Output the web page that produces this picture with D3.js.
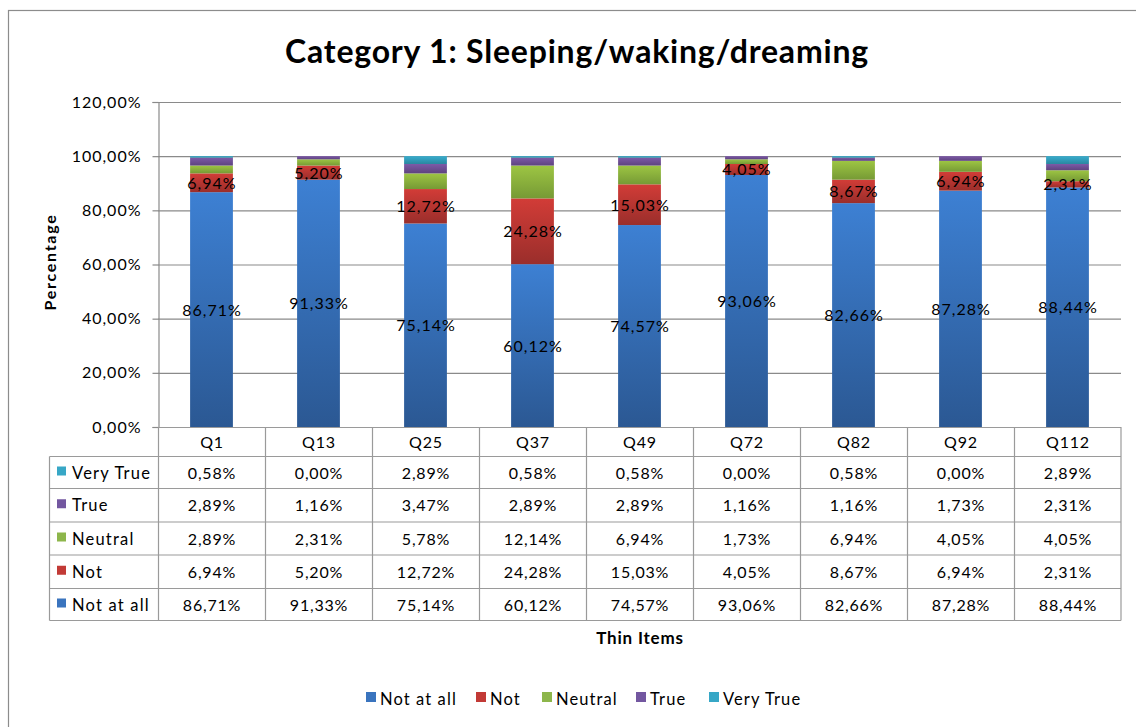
<!DOCTYPE html>
<html><head><meta charset="utf-8">
<script src="https://cdn.jsdelivr.net/npm/d3@7"></script>
<style>body{margin:0;background:#fff}svg{display:block}text{font-family:Lato,"Noto Sans",sans-serif;fill:#000}</style>
</head><body><svg id="c" width="1136" height="727"></svg>
<script>
const categories = ["Q1","Q13","Q25","Q37","Q49","Q72","Q82","Q92","Q112"];
const seriesNames = ["Not at all","Not","Neutral","True","Very True"];
const notAtAll = [86.71,91.33,75.14,60.12,74.57,93.06,82.66,87.28,88.44];
const notVals  = [6.94,5.20,12.72,24.28,15.03,4.05,8.67,6.94,2.31];
const neutral  = [2.89,2.31,5.78,12.14,6.94,1.73,6.94,4.05,4.05];
const trueVals = [2.89,1.16,3.47,2.89,2.89,1.16,1.16,1.73,2.31];
const veryTrue = [0.58,0.00,2.89,0.58,0.58,0.00,0.58,0.00,2.89];
const yTicks = [0,20,40,60,80,100,120];
const labelledSeries = ["Not at all","Not"];

const seriesValues = [notAtAll, notVals, neutral, trueVals, veryTrue];
const topColors = ["#3d80d3","#d23c37","#9dc543","#7d5aa8","#38aece"];
const botColors = ["#2b5893","#9a2e2b","#769a35","#5e437f","#2a86a0"];
const legendColors = ["#3a74be","#c23a36","#8db64b","#7357a0","#37a7c6"];

const svg = d3.select("#c");
const loc = d3.formatLocale({decimal:",",thousands:".",grouping:[3],currency:["",""]});
const fmt = v => loc.format(".2f")(v) + "%";

// outer border
svg.append("rect").attr("x",8.5).attr("y",10.5).attr("width",1200).attr("height",800)
  .attr("fill","none").attr("stroke","#8c8c8c").attr("stroke-width",1.2);

const defs = svg.append("defs");
seriesNames.forEach((s,i)=>{
  const g = defs.append("linearGradient").attr("id","g"+i).attr("x1",0).attr("x2",0).attr("y1",0).attr("y2",1);
  g.append("stop").attr("offset","0%").attr("stop-color",topColors[i]);
  g.append("stop").attr("offset","100%").attr("stop-color",botColors[i]);
});

const L = 158, R = 1121, T = 102, B = 427;
const x = d3.scaleBand().domain(categories).range([L,R]).paddingInner(0.6).paddingOuter(0.3);
const xc = d3.scaleBand().domain(categories).range([L,R]);
const y = d3.scaleLinear().domain([0,120]).range([B,T]);

// title
svg.append("text").attr("x",577).attr("y",63).attr("text-anchor","middle")
  .style("font-size","32px").style("font-weight","bold").style("letter-spacing","0.8px")
  .text("Category 1: Sleeping/waking/dreaming");

// gridlines
svg.append("g").selectAll("line").data(yTicks.filter(t=>t>0)).join("line")
  .attr("x1",L).attr("x2",R).attr("y1",d=>y(d)+0.5).attr("y2",d=>y(d)+0.5)
  .attr("stroke","#8a8a8a").attr("stroke-width",1.2);

// y axis
const ya = svg.append("g").attr("transform",`translate(${L+0.5},0)`)
  .call(d3.axisLeft(y).tickValues(yTicks).tickSize(6).tickFormat(d=>fmt(d)));
ya.select(".domain").attr("stroke","#8a8a8a").attr("stroke-width",1.2);
ya.selectAll(".tick line").attr("stroke","#8a8a8a").attr("stroke-width",1.2);
ya.selectAll(".tick text").attr("x",-17).style("font-size","16px").style("letter-spacing","1px")
  .style("font-family","Lato,sans-serif").attr("fill","#000");

svg.append("text").attr("transform",`translate(56,262) rotate(-90)`).attr("text-anchor","middle")
  .style("font-size","16px").style("font-weight","bold").style("letter-spacing","1.7px").text("Percentage");

// stacked bars
const rows = categories.map((c,j)=>{const o={cat:c}; seriesNames.forEach((s,i)=>o[s]=seriesValues[i][j]); return o;});
const stack = d3.stack().keys(seriesNames)(rows);
const bars = svg.append("g");
stack.forEach((layer,i)=>{
  bars.append("g").selectAll("rect").data(layer).join("rect")
    .attr("x",d=>x(d.data.cat)).attr("width",x.bandwidth())
    .attr("y",d=>y(d[1])).attr("height",d=>Math.max(0,y(d[0])-y(d[1])))
    .attr("fill",`url(#g${i})`);
});
stack.forEach((layer,i)=>{
  if(!labelledSeries.includes(seriesNames[i])) return;
  svg.append("g").selectAll("text").data(layer).join("text")
    .attr("x",d=>x(d.data.cat)+x.bandwidth()/2+0.5).attr("y",d=>y((d[0]+d[1])/2)+6)
    .attr("text-anchor","middle").style("font-size","16px").style("letter-spacing","1px").attr("fill","#1a1a1a")
    .text(d=>fmt(d[1]-d[0]));
});

// table
const rowY = [427,456.5,488.5,522,555,588.5,620.5];
const TL = 49.5;
const tg = svg.append("g");
const stroke = "#9a9a9a";
categories.forEach(c=>{
  tg.append("text").attr("x",xc(c)+xc.bandwidth()/2+0.5).attr("y",448).attr("text-anchor","middle")
    .style("font-size","16px").style("letter-spacing","0.8px").text(c);
});
tg.append("line").attr("x1",L).attr("x2",R).attr("y1",rowY[0]+0.5).attr("y2",rowY[0]+0.5).attr("stroke",stroke).attr("stroke-width",1.2);
for(let k=1;k<rowY.length;k++){
  tg.append("line").attr("x1",TL).attr("x2",R).attr("y1",rowY[k]).attr("y2",rowY[k]).attr("stroke",stroke).attr("stroke-width",1.2);
}
tg.append("line").attr("x1",TL).attr("x2",TL).attr("y1",rowY[1]).attr("y2",rowY[6]).attr("stroke",stroke).attr("stroke-width",1.2);
categories.concat(["end"]).forEach((c,j)=>{
  const xx = j<categories.length ? xc(c)+0.5 : R;
  tg.append("line").attr("x1",xx).attr("x2",xx).attr("y1",rowY[0]).attr("y2",rowY[6]).attr("stroke",stroke).attr("stroke-width",1.2);
});
const tableOrder = [4,3,2,1,0];
tableOrder.forEach((si,r)=>{
  const cy = (rowY[r+1]+rowY[r+2])/2 + 6;
  tg.append("rect").attr("x",57).attr("y",cy-12).attr("width",9).attr("height",9).attr("fill",legendColors[si]);
  tg.append("text").attr("x",72).attr("y",cy).style("font-size","16.5px").style("letter-spacing","1.2px").text(seriesNames[si]);
  categories.forEach((c,j)=>{
    tg.append("text").attr("x",xc(c)+xc.bandwidth()/2+0.5).attr("y",cy).attr("text-anchor","middle")
      .style("font-size","16px").style("letter-spacing","0.8px").text(fmt(seriesValues[si][j]));
  });
});

svg.append("text").attr("x",640).attr("y",644).attr("text-anchor","middle")
  .style("font-size","17px").style("font-weight","bold").style("letter-spacing","0.8px").text("Thin Items");

// legend
const lg = svg.append("g");
const legX = [366,476,542,636,709];
seriesNames.forEach((s,i)=>{
  lg.append("rect").attr("x",legX[i]).attr("y",692).attr("width",10).attr("height",10).attr("fill",legendColors[i]);
  lg.append("text").attr("x",legX[i]+14).attr("y",705).style("font-size","16.5px").style("letter-spacing","1.1px").text(s);
});
</script></body></html>
